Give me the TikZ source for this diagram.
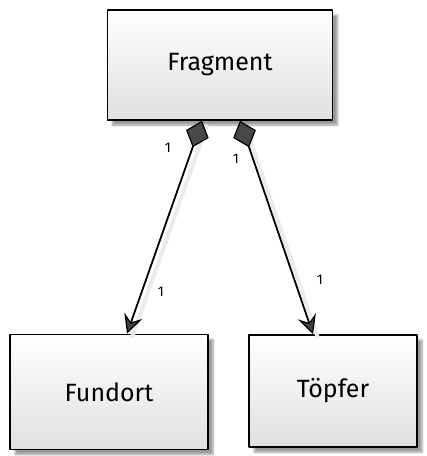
\documentclass[tikz,border=0pt]{standalone}
\usepackage{fontspec}
\setmainfont{Fira Sans}
\usetikzlibrary{arrows.meta,shadows.blur}
\begin{document}
\begin{tikzpicture}[x=1pt,y=-1pt,
  cls/.style={draw=black, line width=1.6pt, rectangle, inner sep=0pt,
    top color=white, bottom color=black!12, line join=round,
    blur shadow={shadow xshift=5pt, shadow yshift=-5pt, shadow blur steps=6, shadow opacity=40},
    font=\fontsize{25}{29}\selectfont},
  assoc/.style={line width=1.8pt,
    {Diamond[length=28pt,width=24pt,fill=black!72,line width=1.2pt]}-{Stealth[length=19pt,width=19pt,inset=7pt,fill=black!75,line width=1.2pt]}},
  shadowline/.style={line width=4pt, draw=black!8},
  mult/.style={font=\fontsize{14}{15}\selectfont, inner sep=0pt}
]
\useasboundingbox (0,0) rectangle (427,456);
\node[cls, minimum width=225pt, minimum height=110pt] (frag) at (220,65) {Fragment};
\node[cls, minimum width=198pt, minimum height=115pt] (fund) at (109,392) {Fundort};
\node[cls, minimum width=168pt, minimum height=112pt] (topf) at (333,391) {Töpfer};
\coordinate (a1) at ([xshift=-18pt]frag.south);
\coordinate (b1) at ([xshift=18pt]fund.north);
\coordinate (a2) at ([xshift=20pt]frag.south);
\coordinate (b2) at ([xshift=-20pt]topf.north);
\draw[shadowline] ([shift={(5pt,-4pt)}]a1) -- ([shift={(5pt,-4pt)}]b1);
\draw[shadowline] ([shift={(5pt,-4pt)}]a2) -- ([shift={(5pt,-4pt)}]b2);
\draw[assoc] (a1) -- (b1);
\draw[assoc] (a2) -- (b2);
\node[mult] (m1) at (168,148) {1};
\node[mult] (m2) at (236,159) {1};
\node[mult] (m3) at (161,292) {1};
\node[mult] (m4) at (320,280) {1};
\end{tikzpicture}
\end{document}
